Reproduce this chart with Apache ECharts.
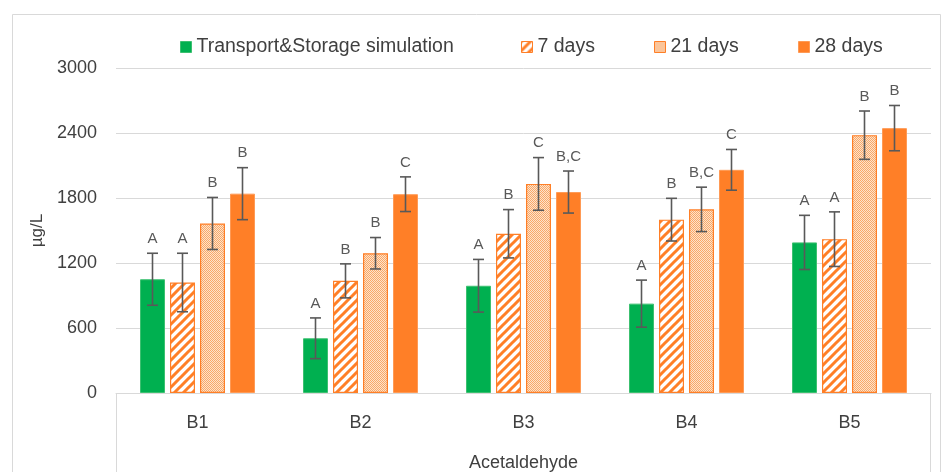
<!DOCTYPE html>
<html>
<head>
<meta charset="utf-8">
<script src="https://cdn.jsdelivr.net/npm/echarts@6/dist/echarts.min.js"></script>
<style>
  html, body { margin: 0; padding: 0; background: #fff; }
  #chart { width: 943px; height: 472px; }
</style>
</head>
<body>
<div id="chart"></div>
<script>
// Acetaldehyde concentration (µg/L) per sample, with standard deviation and significance letters
const categories = ['B1', 'B2', 'B3', 'B4', 'B5'];
const seriesNames = ['Transport&Storage simulation', '7 days', '21 days', '28 days'];

const transportValues = [1050, 505, 990, 825, 1390];
const transportErrors = [240, 188, 243, 217, 250];
const transportLetters = ['A', 'A', 'A', 'A', 'A'];

const day7Values = [1020, 1035, 1470, 1600, 1420];
const day7Errors = [270, 157, 223, 197, 252];
const day7Letters = ['A', 'B', 'B', 'B', 'A'];

const day21Values = [1565, 1290, 1930, 1695, 2380];
const day21Errors = [240, 145, 243, 205, 223];
const day21Letters = ['B', 'B', 'C', 'B,C', 'B'];

const day28Values = [1840, 1835, 1855, 2060, 2445];
const day28Errors = [240, 160, 194, 188, 209];
const day28Letters = ['B', 'C', 'B,C', 'C', 'B'];

const yTicks = [0, 600, 1200, 1800, 2400, 3000];

const GREEN = '#00B050';
const ORANGE = '#FF7F27';
const FONT = '"Liberation Sans", Arial, sans-serif';
const TEXT = '#404040';
const GRID_COLOR = '#D9D9D9';
const ERR_COLOR = '#595959';

const BAR_WIDTH = 25;
const BAR_GAP_PX = 5;

const grid = { left: 116, right: 12, top: 68, bottom: 79, outerBoundsMode: 'none', containLabel: false };

// Diagonal hatching for "7 days"
function hatchPattern() {
  const s = 9;
  const c = document.createElement('canvas');
  c.width = s; c.height = s;
  const g = c.getContext('2d');
  g.fillStyle = '#ffffff';
  g.fillRect(0, 0, s, s);
  g.strokeStyle = ORANGE;
  g.lineWidth = 3;
  g.beginPath();
  g.moveTo(-2, s + 2); g.lineTo(s + 2, -2);
  g.moveTo(-2 - s, s + 2); g.lineTo(2, -2);
  g.moveTo(s - 2, s + 2); g.lineTo(s + 2 + s, -2);
  g.stroke();
  return c;
}

// Fine dotted fill for "21 days"
function dotPattern() {
  const c = document.createElement('canvas');
  c.width = 2; c.height = 2;
  const g = c.getContext('2d');
  g.fillStyle = '#FDE3CC';
  g.fillRect(0, 0, 2, 2);
  g.fillStyle = '#F9A868';
  g.fillRect(0, 0, 1, 1);
  g.fillRect(1, 1, 1, 1);
  return c;
}

const groups = [
  { values: transportValues, errors: transportErrors, letters: transportLetters,
    style: { color: GREEN, borderColor: '#3CC070', borderWidth: 1 } },
  { values: day7Values, errors: day7Errors, letters: day7Letters,
    style: { color: { image: hatchPattern(), repeat: 'repeat' }, borderColor: ORANGE, borderWidth: 1.2 } },
  { values: day21Values, errors: day21Errors, letters: day21Letters,
    style: { color: { image: dotPattern(), repeat: 'repeat' }, borderColor: ORANGE, borderWidth: 1.2 } },
  { values: day28Values, errors: day28Errors, letters: day28Letters,
    style: { color: ORANGE, borderColor: '#FF9A55', borderWidth: 1 } }
];

const nGroups = groups.length;
const pitch = BAR_WIDTH + BAR_GAP_PX;

const barSeries = groups.map((grp, i) => ({
  name: seriesNames[i],
  type: 'bar',
  data: grp.values,
  barWidth: BAR_WIDTH,
  barGap: (BAR_GAP_PX / BAR_WIDTH * 100) + '%',
  itemStyle: grp.style,
  emphasis: { disabled: true }
}));

// Error bars and significance letters, placed over the matching bar
const errorSeries = groups.map((grp, i) => ({
  type: 'custom',
  name: seriesNames[i] + ' sd',
  z: 5,
  silent: true,
  data: grp.values.map((v, k) => [k, v, grp.errors[k]]),
  renderItem: function (params, api) {
    const k = api.value(0);
    const v = api.value(1);
    const e = api.value(2);
    const letter = grp.letters[k];
    const offset = (i - (nGroups - 1) / 2) * pitch;
    const top = api.coord([k, v + e]);
    const bot = api.coord([k, v - e]);
    const x = top[0] + offset;
    const cap = 5.5;
    const ls = { stroke: ERR_COLOR, lineWidth: 1.6 };
    return {
      type: 'group',
      children: [
        { type: 'line', shape: { x1: x, y1: top[1], x2: x, y2: bot[1] }, style: ls },
        { type: 'line', shape: { x1: x - cap, y1: top[1], x2: x + cap, y2: top[1] }, style: ls },
        { type: 'line', shape: { x1: x - cap, y1: bot[1], x2: x + cap, y2: bot[1] }, style: ls },
        { type: 'text', x: x, y: top[1] - 7,
          style: { text: letter, fill: ERR_COLOR, font: '15px ' + FONT, align: 'center', verticalAlign: 'bottom' } }
      ]
    };
  }
}));

const legendLefts = [180, 521, 654, 798];
const legends = seriesNames.map((n, i) => ({
  data: [n],
  left: legendLefts[i],
  top: 37,
  padding: 0,
  icon: 'rect',
  itemWidth: 11,
  itemHeight: 11,
  itemGap: 0,
  itemStyle: { borderWidth: 1 },
  textStyle: { fontFamily: FONT, fontSize: 19.5, color: TEXT },
  selectedMode: false
}));

const chart = echarts.init(document.getElementById('chart'), null, { renderer: 'canvas' });

const W = 943, H = 472;
const plotLeft = grid.left, plotRight = W - grid.right, axisY = H - grid.bottom;

chart.setOption({
  animation: false,
  backgroundColor: '#ffffff',
  legend: legends,
  grid: grid,
  xAxis: {
    type: 'category',
    data: categories,
    name: 'Acetaldehyde',
    nameLocation: 'middle',
    nameGap: 61,
    nameTextStyle: { fontFamily: FONT, fontSize: 18, color: TEXT },
    axisLine: { lineStyle: { color: GRID_COLOR } },
    axisTick: { show: false },
    axisLabel: { fontFamily: FONT, fontSize: 18, color: TEXT, margin: 21 }
  },
  yAxis: {
    type: 'value',
    min: yTicks[0],
    max: yTicks[yTicks.length - 1],
    interval: yTicks[1] - yTicks[0],
    name: 'µg/L',
    nameLocation: 'middle',
    nameGap: 68,
    nameRotate: 90,
    nameTextStyle: { fontFamily: FONT, fontSize: 17, color: TEXT },
    axisLine: { show: false },
    axisTick: { show: false },
    splitLine: { lineStyle: { color: GRID_COLOR, width: 1 } },
    axisLabel: { fontFamily: FONT, fontSize: 18, color: TEXT, margin: 19,
      formatter: v => String(v) }
  },
  graphic: [
    // chart frame
    { type: 'rect', shape: { x: 12.5, y: 14.5, width: 928, height: 470 },
      style: { fill: null, stroke: '#D9D9D9', lineWidth: 1 }, silent: true, z: -1 },
    // category box sides
    { type: 'line', shape: { x1: plotLeft + 0.5, y1: axisY, x2: plotLeft + 0.5, y2: H + 5 },
      style: { stroke: GRID_COLOR, lineWidth: 1 }, silent: true },
    { type: 'line', shape: { x1: plotRight - 0.5, y1: axisY, x2: plotRight - 0.5, y2: H + 5 },
      style: { stroke: GRID_COLOR, lineWidth: 1 }, silent: true }
  ],
  series: barSeries.concat(errorSeries)
});
</script>
</body>
</html>
